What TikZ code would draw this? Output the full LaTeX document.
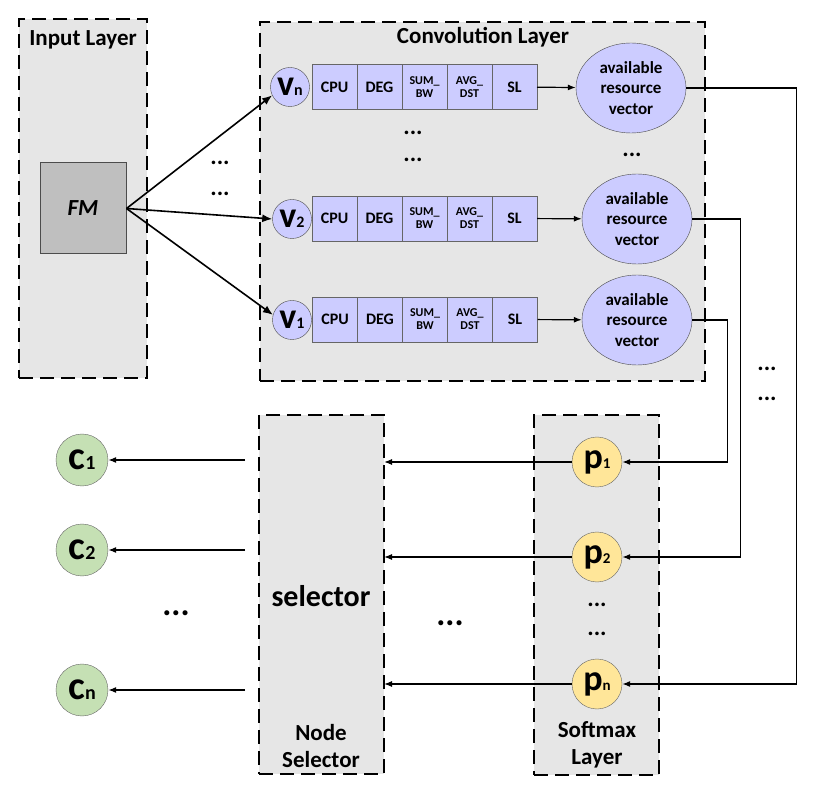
\documentclass[tikz,border=0pt]{standalone}
\usepackage{fontspec}
\setmainfont{Carlito}
\usetikzlibrary{positioning,arrows.meta,shapes.geometric}

\definecolor{layergray}{HTML}{E6E6E6}
\definecolor{fmgray}{HTML}{BFBFBF}
\definecolor{cellblue}{HTML}{CCCCFF}
\definecolor{candgreen}{HTML}{C5E0B4}
\definecolor{probyellow}{HTML}{FFE699}

% big letter with a small index after it
\newcommand{\idx}[4]{{\fontsize{#1}{#1}\selectfont #3}{\fontsize{#2}{#2}\selectfont #4}}

\begin{document}
\begin{tikzpicture}[x=1pt, y=-1pt,
  every node/.style={font=\bfseries},
  layer/.style={draw, dash pattern=on 14pt off 7pt, line width=2.2pt, fill=layergray, inner sep=0pt, outer sep=0pt},
  cell/.style={draw=black!60, fill=cellblue, minimum width=45pt, minimum height=45pt, inner sep=0pt, outer sep=0pt, align=center, font=\bfseries\fontsize{16}{16}\selectfont},
  small/.style={font=\bfseries\fontsize{12}{13}\selectfont},
  vert/.style={circle, draw=black!70, fill=cellblue, minimum size=39pt, inner sep=0pt},
  arv/.style={ellipse, draw=black!70, fill=cellblue, minimum width=110pt, minimum height=90pt, inner sep=0pt, align=center, font=\bfseries\fontsize{17}{20.5}\selectfont},
  prob/.style={circle, draw=black!60, fill=probyellow, minimum size=50pt, inner sep=0pt},
  cand/.style={circle, draw=black!60, fill=candgreen, minimum size=52pt, inner sep=0pt},
  ttl/.style={font=\bfseries\fontsize{23}{27}\selectfont, align=center},
  dots/.style={font=\bfseries\fontsize{24}{24}\selectfont},
  bigdots/.style={font=\bfseries\fontsize{34}{34}\selectfont},
  wire/.style={-{Latex[length=8pt,width=6pt]}, line width=1.2pt},
  fmwire/.style={-{Latex[length=10pt,width=8pt]}, line width=1.6pt}]

\useasboundingbox (0,0) rectangle (831,794);

% layers
\node[layer, minimum width=128pt, minimum height=359pt] (inlayer) at (83,198.5) {};
\node[layer, minimum width=445pt, minimum height=359pt] (convlayer) at (482.5,201.5) {};
\node[layer, minimum width=125pt, minimum height=359pt] (sel) at (321.5,594.5) {};
\node[layer, minimum width=125pt, minimum height=360pt] (softlayer) at (596.5,595) {};

\node[ttl] (inttl) at (83,40) {Input Layer};
\node[ttl] (convttl) at (483,37) {Convolution Layer};
\node[font=\bfseries\fontsize{30}{30}\selectfont] (selttl) at (321,596) {selector};
\node[ttl] (selname) at (321,746) {Node\\Selector};
\node[ttl] (softname) at (597,745) {Softmax\\Layer};

\node[draw=black!70, line width=1pt, fill=fmgray, minimum width=86pt, minimum height=91pt,
      font=\bfseries\itshape\fontsize{23}{23}\selectfont] (fm) at (83,208.5) {FM};

% vertex rows
\node[vert] (vn) at (290,87) {\idx{36}{16}{v}{n}};
\node[cell] (cpun) at (334.5,87) {CPU};
\node[cell, right=0pt of cpun] (degn) {DEG};
\node[cell, small, right=0pt of degn] (sumn) {SUM\_\\BW};
\node[cell, small, right=0pt of sumn] (avgn) {AVG\_\\DST};
\node[cell, right=0pt of avgn] (sln) {SL};
\node[arv] (arvn) at (631,88) {available\\resource\\vector};

\node[vert] (v2) at (292,219) {\idx{36}{16}{v}{2}};
\node[cell] (cpu2) at (334.5,218.5) {CPU};
\node[cell, right=0pt of cpu2] (deg2) {DEG};
\node[cell, small, right=0pt of deg2] (sum2) {SUM\_\\BW};
\node[cell, small, right=0pt of sum2] (avg2) {AVG\_\\DST};
\node[cell, right=0pt of avg2] (sl2) {SL};
\node[arv] (arv2) at (637,219) {available\\resource\\vector};

\node[vert] (v1) at (292,320) {\idx{36}{16}{v}{1}};
\node[cell] (cpu1) at (335,319.5) {CPU};
\node[cell, right=0pt of cpu1] (deg1) {DEG};
\node[cell, small, right=0pt of deg1] (sum1) {SUM\_\\BW};
\node[cell, small, right=0pt of sum1] (avg1) {AVG\_\\DST};
\node[cell, right=0pt of avg1] (sl1) {SL};
\node[arv] (arv1) at (637,320) {available\\resource\\vector};

% softmax and candidates
\node[prob] (p1) at (597,462) {\idx{36}{15}{p}{1}};
\node[prob] (p2) at (597,557) {\idx{36}{15}{p}{2}};
\node[prob] (pn) at (597,684) {\idx{36}{15}{p}{n}};

\node[cand] (c1) at (82,460) {\idx{40}{20}{c}{1}};
\node[cand] (c2) at (82,550) {\idx{40}{20}{c}{2}};
\node[cand] (cn) at (82,690) {\idx{40}{20}{c}{n}};

% dots
\node[dots] (dl1) at (220,163) {...};
\node[dots] (dl2) at (220,194) {...};
\node[dots] (dc1) at (413,133) {...};
\node[dots] (dc2) at (413,160) {...};
\node[dots] (dc3) at (632,155) {...};
\node[dots] (dr1) at (767,369) {...};
\node[dots] (dr2) at (767,399) {...};
\node[dots] (ds1) at (597,605) {...};
\node[dots] (ds2) at (597,634) {...};
\node[bigdots] (dcand) at (176,613) {...};
\node[bigdots] (dmid) at (450,623) {...};

% connectors
\draw[fmwire] (fm.east) -- (vn.205);
\draw[fmwire] (fm.east) -- (v2.west);
\draw[fmwire] (fm.east) -- (v1.165);

\draw[wire] (sln) -- (arvn);
\draw[wire] (sl2) -- (arv2);
\draw[wire] (sl1) -- (arv1);

\draw[wire] (arvn.east) -- ++(110,0) |- (pn.east);
\draw[wire] (arv2.east) -- ++(48,0) |- (p2.east);
\draw[wire] (arv1.east) -- ++(35,0) |- (p1.east);

\draw[wire] (p1.west) -- (sel.east |- p1.west);
\draw[wire] (p2.west) -- (sel.east |- p2.west);
\draw[wire] (pn.west) -- (sel.east |- pn.west);

\draw[wire] (sel.west |- c1.east) ++(-14,0) -- (c1.east);
\draw[wire] (sel.west |- c2.east) ++(-14,0) -- (c2.east);
\draw[wire] (sel.west |- cn.east) ++(-14,0) -- (cn.east);
\end{tikzpicture}
\end{document}
